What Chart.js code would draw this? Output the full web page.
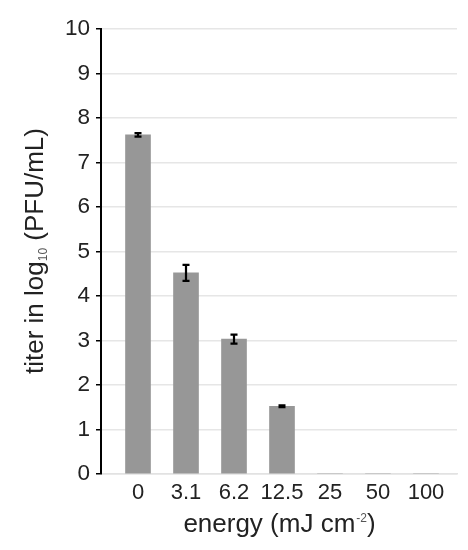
<!DOCTYPE html>
<html>
<head>
<meta charset="utf-8">
<script src="https://cdn.jsdelivr.net/npm/chart.js@4/dist/chart.umd.min.js"></script>
<style>
html,body{margin:0;padding:0;background:#fff;}
#wrap{width:468px;height:550px;position:relative;}
</style>
</head>
<body>
<div id="wrap"><canvas id="c" width="468" height="550"></canvas></div>
<script>
const categories = ["0", "3.1", "6.2", "12.5", "25", "50", "100"];
const titerValues = [7.62, 4.52, 3.03, 1.52, 0, 0, 0];
const titerErrors = [0.04, 0.18, 0.10, 0.02, 0, 0, 0];
const yTicks = [0, 1, 2, 3, 4, 5, 6, 7, 8, 9, 10];

const FONT = "'Liberation Sans', Arial, sans-serif";
const TEXT = "#222222";

const errorBars = {
  id: 'errorBars',
  afterDatasetsDraw(chart) {
    const ctx = chart.ctx, x = chart.scales.x, y = chart.scales.y;
    ctx.save();
    ctx.strokeStyle = '#000';
    ctx.lineWidth = 2.2;
    titerValues.forEach((v, i) => {
      const e = titerErrors[i];
      if (!v) return;
      const px = x.getPixelForValue(i);
      const top = y.getPixelForValue(v + e), bot = y.getPixelForValue(v - e);
      const cap = 3.5;
      ctx.beginPath();
      ctx.moveTo(px, top); ctx.lineTo(px, bot);
      ctx.moveTo(px - cap, top); ctx.lineTo(px + cap, top);
      ctx.moveTo(px - cap, bot); ctx.lineTo(px + cap, bot);
      ctx.stroke();
    });
    ctx.restore();
  }
};

const titles = {
  id: 'titles',
  afterDraw(chart) {
    const ctx = chart.ctx, a = chart.chartArea;
    ctx.save();
    ctx.fillStyle = TEXT;
    ctx.textBaseline = 'alphabetic';
    const big = '26px ' + FONT, small = '12px ' + FONT;
    // x title with superscript
    const p1 = 'energy (mJ cm', sup = '-2', p2 = ')';
    ctx.font = big; const w1 = ctx.measureText(p1).width, w3 = ctx.measureText(p2).width;
    ctx.font = small; const w2 = ctx.measureText(sup).width;
    const total = w1 + w2 + w3;
    const sx = (a.left + a.right) / 2 - total / 2;
    const by = 532;
    ctx.font = big; ctx.fillText(p1, sx, by);
    ctx.font = small; ctx.fillStyle = '#555'; ctx.fillText(sup, sx + w1 + 1, by - 10);
    ctx.fillStyle = TEXT; ctx.font = big; ctx.fillText(p2, sx + w1 + w2 + 1, by);
    // y title rotated with subscript
    const q1 = 'titer in log', sub = '10', q2 = ' (PFU/mL)';
    ctx.font = big; const v1 = ctx.measureText(q1).width, v3 = ctx.measureText(q2).width;
    ctx.font = small; const v2 = ctx.measureText(sub).width;
    const tot = v1 + v2 + v3;
    ctx.translate(43, 251);
    ctx.rotate(-Math.PI / 2);
    const tx = -tot / 2;
    ctx.font = big; ctx.fillText(q1, tx, 0);
    ctx.font = small; ctx.fillStyle = '#555'; ctx.fillText(sub, tx + v1, 4);
    ctx.fillStyle = TEXT; ctx.font = big; ctx.fillText(q2, tx + v1 + v2, 0);
    ctx.restore();
  }
};

const xMin = -0.771, xMax = 6.646;

new Chart(document.getElementById('c'), {
  type: 'bar',
  data: {
    datasets: [{
      data: titerValues.map((v, i) => ({x: i, y: v})),
      backgroundColor: '#979797',
      borderWidth: 0,
      barThickness: 25
    }]
  },
  options: {
    responsive: false,
    animation: false,
    events: [],
    layout: {padding: {top: 29, right: 11, left: 0, bottom: 0}},
    plugins: {legend: {display: false}, tooltip: {enabled: false}},
    scales: {
      x: {
        type: 'linear',
        min: xMin, max: xMax,
        offset: false,
        afterBuildTicks(scale) { scale.ticks = categories.map((_, i) => ({value: i})); },
        afterFit(scale) { scale.height = 76; },
        grid: {display: false, drawTicks: false},
        border: {display: true, color: '#e2e2e2', width: 1.5},
        ticks: {
          padding: 6,
          color: TEXT,
          font: {family: FONT, size: 22},
          maxRotation: 0,
          autoSkip: false,
          callback: (v) => categories[v]
        }
      },
      y: {
        min: 0, max: 10,
        afterBuildTicks(scale) { scale.ticks = yTicks.map(v => ({value: v})); },
        afterFit(scale) { scale.width = 101; },
        grid: {color: '#e6e6e6', lineWidth: 1.5, tickColor: '#000', tickLength: 5, tickWidth: 1.5},
        border: {display: true, color: '#000', width: 2},
        ticks: {
          padding: 6,
          color: TEXT,
          font: {family: FONT, size: 22.5}
        }
      }
    }
  },
  plugins: [errorBars, titles]
});
</script>
</body>
</html>
